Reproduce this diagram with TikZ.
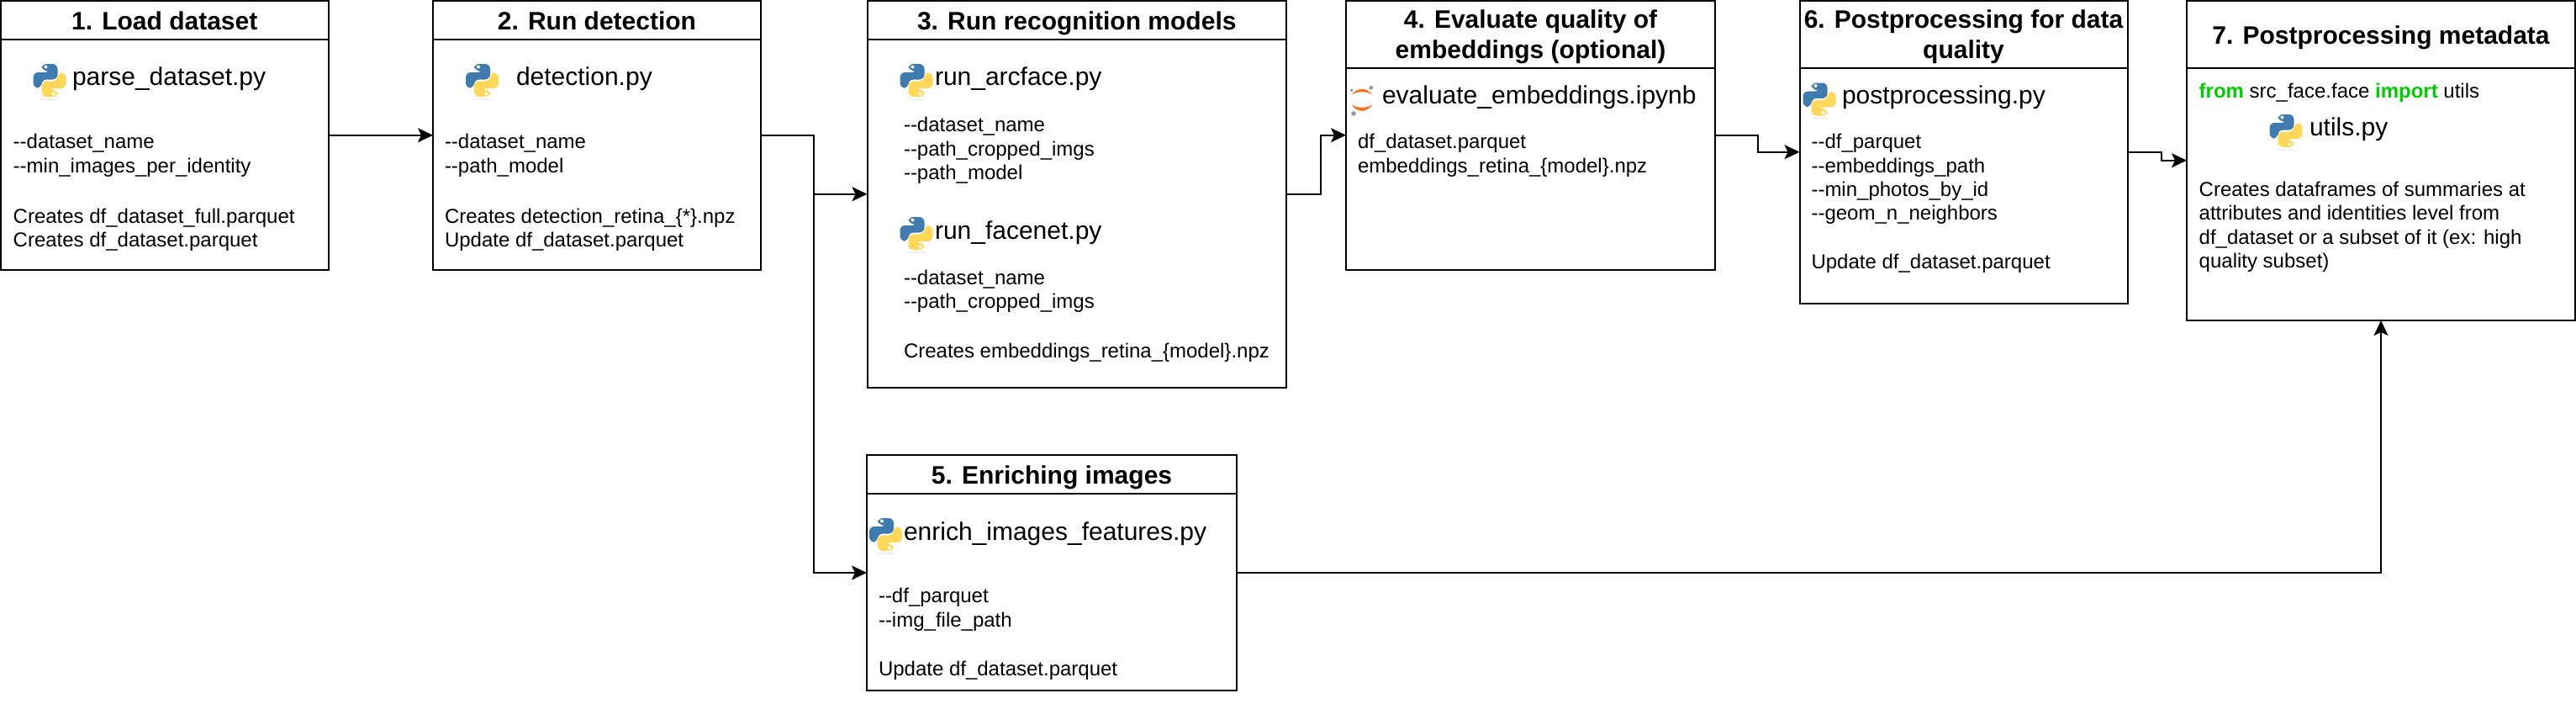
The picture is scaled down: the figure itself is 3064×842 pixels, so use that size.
\documentclass[tikz,border=0pt]{standalone}
\usepackage{fontspec}
\setmainfont{Liberation Sans}[Ligatures=TeXOff]
\usetikzlibrary{arrows.meta}
\definecolor{pyblue}{HTML}{3F7BAE}
\definecolor{pyyellow}{HTML}{FFD85A}
\definecolor{juporange}{HTML}{F37726}
\definecolor{jupgrey}{HTML}{9A9A9A}
\definecolor{kwgreen}{HTML}{00CC00}
\tikzset{
  pysnake/.pic={
    \fill[pic actions,rounded corners=3pt] (0.5,-9.5) -- (0.5,-11.5) -- (-9.5,-11.5) -- (-9.5,-19.5) -- (9.5,-19.5)
      -- (9.5,-1) -- (-9.5,-1) -- (-9.5,9) -- (-19.5,9) -- (-19.5,-9.5) -- cycle;
    \fill[white] (-4.5,-16) circle (1pt);
  },
  pyicon/.pic={
    \fill[black!6] (0,22.5) ellipse (6pt and 0.6pt);
    \pic[fill=pyblue] {pysnake};
    \pic[fill=pyyellow,rotate=180] {pysnake};
  },
  jupicon/.pic={
    \fill[juporange] (-12.5,-6) .. controls (-6,-15.5) and (6,-15.5) .. (12.5,-6) .. controls (6,-11) and (-6,-11) .. cycle;
    \fill[juporange] (-12.5,5) .. controls (-6,15.5) and (6,15.5) .. (12.5,5) .. controls (6,10) and (-6,10) .. cycle;
    \fill[jupgrey] (10.7,-14.7) circle (1.2pt);
    \fill[jupgrey!80!black] (-12.3,-11.7) circle (0.8pt);
    \fill[jupgrey] (-10,16) circle (1.4pt);
  },
}
\newcommand{\firstline}{\rule{0pt}{13.5pt}}
\begin{document}
\begin{tikzpicture}[
	x=0.5pt,y=-0.5pt,
	line width=1pt,
	stepbox/.style={rectangle,draw,outer sep=0pt,inner sep=0pt,anchor=north west},
	headbox/.style={stepbox,font=\fontsize{15}{18}\selectfont\bfseries,text height=11.5pt,text depth=0pt},
	headtwo/.style={stepbox,font=\fontsize{15}{18}\selectfont\bfseries,align=center},
	scriptname/.style={inner sep=0pt,anchor=base west,font=\fontsize{15}{18}\selectfont},
	bodytext/.style={inner sep=0pt,anchor=north west,align=left,font=\fontsize{12}{14.15}\selectfont},
	flow/.style={-{Stealth[length=9pt,width=8.5pt,inset=2pt]}},
	]
\useasboundingbox (0,0) rectangle (3064,842);
% boxes
\node [stepbox,minimum width=195.25pt,minimum height=160.25pt] (box1) at (0.5,0.5) {};
\node [headbox,minimum width=195.25pt,minimum height=23.25pt] (head1) at (box1.north west) {1. Load dataset};
\node [stepbox,minimum width=195pt,minimum height=160.25pt] (box2) at (515,0.5) {};
\node [headbox,minimum width=195pt,minimum height=23.25pt] (head2) at (box2.north west) {2. Run detection};
\node [stepbox,minimum width=249.25pt,minimum height=230.25pt] (box3) at (1031.5,0.5) {};
\node [headbox,minimum width=249.25pt,minimum height=23.25pt] (head3) at (box3.north west) {3. Run recognition models};
\node [stepbox,minimum width=219.5pt,minimum height=160.25pt] (box4) at (1601,0.5) {};
\node [headtwo,minimum width=219.5pt,minimum height=40.25pt] (head4) at (box4.north west) {\firstline 4. Evaluate quality of\\embeddings (optional)};
\node [stepbox,minimum width=220pt,minimum height=140pt] (box5) at (1031,541) {};
\node [headbox,minimum width=220pt,minimum height=23pt] (head5) at (box5.north west) {5. Enriching images};
\node [stepbox,minimum width=195pt,minimum height=180.25pt] (box6) at (2140.5,0.5) {};
\node [headtwo,minimum width=195pt,minimum height=40.25pt] (head6) at (box6.north west) {\firstline 6. Postprocessing for data\\quality};
\node [stepbox,minimum width=231pt,minimum height=190.25pt] (box7) at (2601,0.5) {};
\node [headbox,minimum width=231pt,minimum height=40.25pt] (head7) at (box7.north west) {7. Postprocessing metadata};
% box 1
\pic at (59,95.5) {pyicon};
\node [scriptname] (script1) at (85,101) {parse\_dataset.py};
\node [bodytext] (args1) at (14.7,158.5) {--dataset\_name\\--min\_images\_per\_identity\\[16pt] Creates df\_dataset\_full.parquet\\Creates df\_dataset.parquet};
% box 2
\pic at (573.5,95.5) {pyicon};
\node [scriptname] (script2) at (613,101) {detection.py};
\node [bodytext] (args2) at (528,158.5) {--dataset\_name\\--path\_model\\[16pt] Creates detection\_retina\_\{*\}.npz\\Update df\_dataset.parquet};
% box 3
\pic at (1090,95.5) {pyicon};
\node [scriptname] (script3a) at (1111,101) {run\_arcface.py};
\node [bodytext] (args3a) at (1074,138.5) {--dataset\_name\\--path\_cropped\_imgs\\--path\_model};
\pic at (1090,277.5) {pyicon};
\node [scriptname] (script3b) at (1111,284) {run\_facenet.py};
\node [bodytext] (args3b) at (1074,320) {--dataset\_name\\--path\_cropped\_imgs\\[15pt] Creates embeddings\_retina\_\{model\}.npz};
% box 4
\pic at (1620,119) {jupicon};
\node [scriptname] (script4) at (1643,123) {evaluate\_embeddings.ipynb};
\node [bodytext] (args4) at (1614,158.5) {df\_dataset.parquet\\embeddings\_retina\_\{model\}.npz};
% box 5
\pic at (1053.5,635.5) {pyicon};
\node [scriptname] (script5) at (1074,642) {enrich\_images\_features.py};
\node [bodytext] (args5) at (1044,698.5) {--df\_parquet\\--img\_file\_path\\[15pt] Update df\_dataset.parquet};
% box 6
\pic at (2164,118) {pyicon};
\node [scriptname] (script6) at (2190,123) {postprocessing.py};
\node [bodytext] (args6) at (2153.5,158.5) {--df\_parquet\\--embeddings\_path\\--min\_photos\_by\_id\\--geom\_n\_neighbors\\[14.5pt] Update df\_dataset.parquet};
% box 7
\node [bodytext] (import7) at (2614.7,98.5) {\textcolor{kwgreen}{\textbf{from}} src\_face.face \textcolor{kwgreen}{\textbf{import}} utils};
\pic at (2719,155.5) {pyicon};
\node [scriptname] (script7) at (2746,161) {utils.py};
\node [bodytext] (args7) at (2614.7,215) {Creates dataframes of summaries at\\attributes and identities level from\\df\_dataset or a subset of it (ex: high\\quality subset)};
% connectors
\coordinate (fork) at (968,0 |- box2.east);
\draw[flow] (box1.east) -- (box2.west);
\draw[flow] (box2.east) -- (fork) |- (box3.west);
\draw[flow] (fork) |- (box5.west);
\draw[flow] (box3.east) -- ++(41,0) |- (box4.west);
\draw[flow] (box4.east) -- ++(51,0) |- (box6.west);
\draw[flow] (box6.east) -- ++(40,0) |- (box7.west);
\draw[flow] (box5.east) -| (box7.south);
\end{tikzpicture}
\end{document}
